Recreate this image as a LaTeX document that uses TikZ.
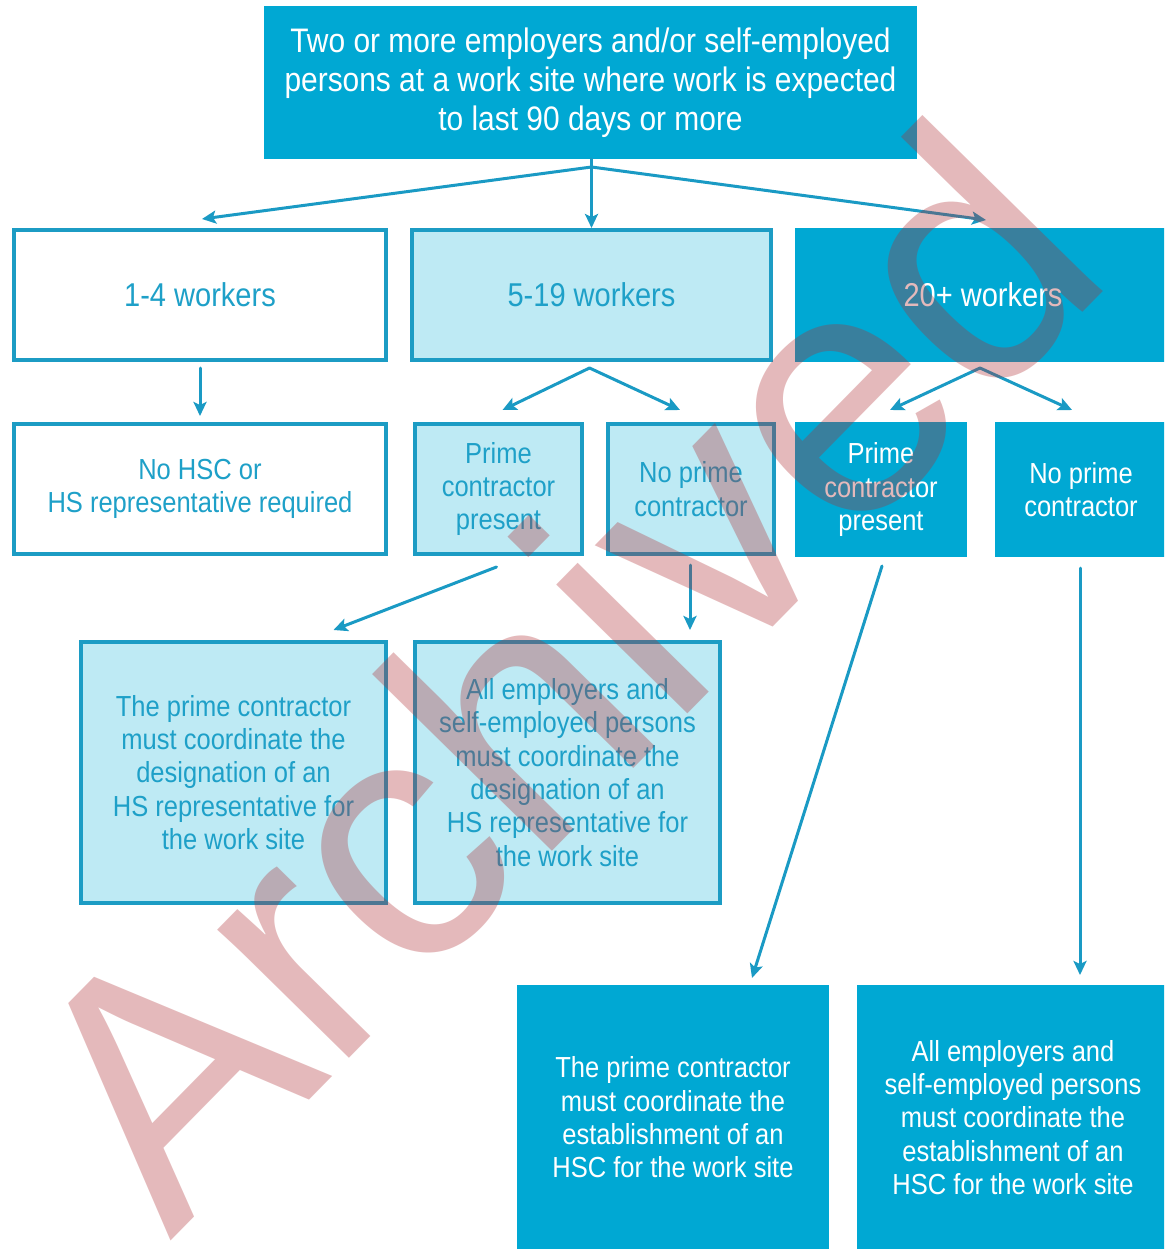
\documentclass[tikz,border=0pt]{standalone}
\usepackage{fontspec}
\setmainfont{Liberation Sans}[FakeStretch=0.88]
\newfontfamily\wmfont{Liberation Sans}
\usetikzlibrary{arrows.meta,calc}
\definecolor{dark}{RGB}{0,168,211}
\definecolor{light}{RGB}{190,234,244}
\definecolor{bord}{RGB}{28,156,196}
\definecolor{txt}{RGB}{30,160,200}
\definecolor{arrc}{RGB}{26,154,196}
\definecolor{wmc}{RGB}{175,45,50}
\tikzset{
 base/.style={rectangle, inner sep=0pt, outer sep=0pt, align=center, font=\fontsize{29}{33.4}\selectfont},
 darkbox/.style={base, fill=dark, text=white},
 lightbox/.style={base, fill=light, draw=bord, line width=4pt, text=txt},
 whitebox/.style={base, fill=white, draw=bord, line width=4pt, text=txt},
 bigtext/.style={font=\fontsize{33}{39}\selectfont},
 toptext/.style={font=\fontsize{34}{39}\selectfont},
 arr/.style={draw=arrc, line width=3pt, line cap=round, -{Stealth[length=14pt,width=13pt,inset=3pt]}},
 wm/.style={text=wmc, text opacity=0.33, inner sep=0pt, outer sep=0pt, font=\wmfont\fontsize{348}{348}\selectfont},
}
\begin{document}
\begin{tikzpicture}[x=1pt,y=-1pt]
\useasboundingbox (0,0) rectangle (1164,1249);
\clip (0,0) rectangle (1164,1249);
\fill[white] (0,0) rectangle (1164,1249);

\node[darkbox, toptext, minimum width=653, minimum height=153] (top) at (590.5,82.5)
 {Two or more employers and/or self-employed\\persons at a work site where work is expected\\to last 90 days or more};

\node[whitebox, bigtext, minimum width=372, minimum height=130] (w14) at (200,295) {1-4 workers};
\node[lightbox, bigtext, minimum width=359, minimum height=130] (w519) at (591.5,295) {5-19 workers};
\node[darkbox, bigtext, minimum width=376, minimum height=134] (w20) at (983,295) {20+ workers};

\node[whitebox, minimum width=372, minimum height=130] (nohsc) at (200,489) {No HSC or\\HS representative required};
\node[lightbox, minimum width=167, minimum height=130] (pcp1) at (498.5,489) {Prime\\contractor\\present};
\node[lightbox, minimum width=166, minimum height=130] (npc1) at (691,489) {No prime\\contractor};
\node[darkbox, minimum width=172, minimum height=135] (pcp2) at (881,489.5) {Prime\\contractor\\present};
\node[darkbox, minimum width=172, minimum height=135] (npc2) at (1081,489.5) {No prime\\contractor};

\node[lightbox, minimum width=305, minimum height=261] (des1) at (233.5,772.5)
 {The prime contractor\\must coordinate the\\designation of an\\HS representative for\\the work site};
\node[lightbox, minimum width=305, minimum height=261] (des2) at (567.5,772.5)
 {All employers and\\self-employed persons\\must coordinate the\\designation of an\\HS representative for\\the work site};

\node[darkbox, minimum width=312, minimum height=265] (est1) at (673,1117.5)
 {The prime contractor\\must coordinate the\\establishment of an\\HSC for the work site};
\node[darkbox, minimum width=312, minimum height=265] (est2) at (1013,1117.5)
 {All employers and\\self-employed persons\\must coordinate the\\establishment of an\\HSC for the work site};

% connectors
\coordinate (tb) at ($(top.south)+(1,8)$);
\draw[arr] (top.south -| tb) -- ($(w519.north -| tb)+(0,-2)$);
\draw[arr] (tb) -- ($(w14.north)+(2,-11)$);
\draw[arr] (tb) -- ($(w20.north)+(3,-8)$);

\draw[arr] ($(w14.south)+(0,8)$) -- ($(nohsc.north)+(0,-8)$);

\coordinate (a519) at ($(w519.south)+(-2,8)$);
\draw[arr] (a519) -- ($(pcp1.north)+(4,-14)$);
\draw[arr] (a519) -- ($(npc1.north)+(-11,-14)$);

\coordinate (a20) at ($(w20.south)+(-3,6)$);
\draw[arr] (a20) -- ($(pcp2.north)+(9,-12)$);
\draw[arr] (a20) -- ($(npc2.north)+(-9,-12)$);

\draw[arr] ($(pcp1.south)+(-2,13)$) -- ($(des1.north)+(100,-12)$);
\draw[arr] ($(npc1.south)+(-1,11)$) -- ($(des2.north -| npc1.south)+(-1,-12)$);
\draw[arr] ($(pcp2.south)+(1,9)$) -- ($(est1.north)+(79,-7)$);
\draw[arr] ($(npc2.south)+(-1,11)$) -- ($(est2.north -| npc2.south)+(-1,-10)$);

% watermark
\node[wm, rotate=45.5, anchor=base west] (wmk) at (170,1241) {Archived};
\end{tikzpicture}
\end{document}
